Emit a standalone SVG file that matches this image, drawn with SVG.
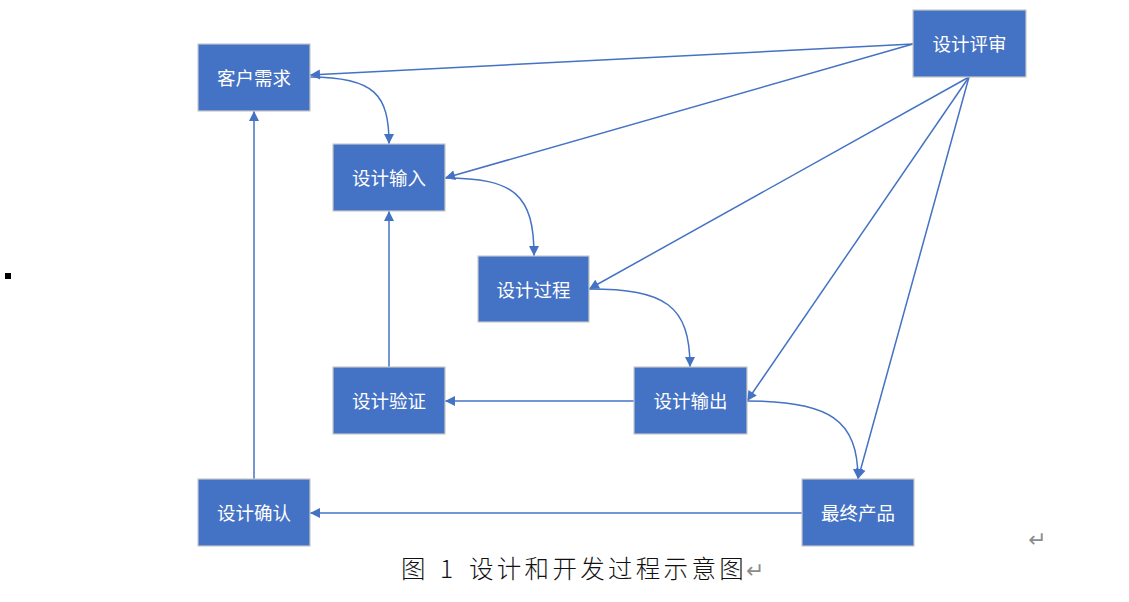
<svg xmlns="http://www.w3.org/2000/svg" width="1129" height="602" viewBox="0 0 1129 602">
<style>
.box{fill:#4472C4;stroke:#C9C9C9;stroke-width:1.2}
.lbl{fill:#FFFFFF;font-family:"Noto Sans CJK SC",sans-serif;font-size:18.5px;text-anchor:middle;dominant-baseline:central}
.c{fill:none;stroke:#4472C4;stroke-width:1.5;marker-end:url(#ah)}
.cap{font-family:"Noto Sans CJK SC",serif;font-size:24.5px;font-weight:300;fill:#111}
.ret{fill:#8C8C8C;font-family:"DejaVu Sans",sans-serif}
</style>
<defs>
<marker id="ah" viewBox="0 0 10 10" refX="10" refY="5" markerWidth="12" markerHeight="10" markerUnits="userSpaceOnUse" orient="auto">
<path d="M0,0 L10,5 L0,10 z" fill="#4472C4"/>
</marker>
</defs>
<rect x="5" y="273" width="6" height="6" fill="#000"/>
<g id="connectors">
<path class="c" d="M310,77 C375,77 389,95 389,144"/>
<path class="c" d="M445,178 C515,178 534,195 534,256"/>
<path class="c" d="M589,289 C665,289 690,305 690,367"/>
<path class="c" d="M747,401 C830,401 858,420 858,479"/>
<path class="c" d="M802,513 L310,513"/>
<path class="c" d="M254,479 L254,111"/>
<path class="c" d="M634,401 L445,401"/>
<path class="c" d="M389,367 L389,211"/>
<path class="c" d="M913,44 L310,75"/>
<path class="c" d="M913,44 L445,178"/>
<path class="c" d="M969,77 L589,289"/>
<path class="c" d="M969,77 L747,401"/>
<path class="c" d="M969,77 L858,479"/>
</g>
<g id="n1"><rect class="box" x="198" y="44" width="112" height="67"/><text class="lbl" x="254" y="77">客户需求</text></g>
<g id="n2"><rect class="box" x="333" y="144" width="112" height="67"/><text class="lbl" x="389" y="177">设计输入</text></g>
<g id="n3"><rect class="box" x="478" y="256" width="111" height="66"/><text class="lbl" x="533.5" y="288.5">设计过程</text></g>
<g id="n4"><rect class="box" x="634" y="367" width="113" height="67"/><text class="lbl" x="690.5" y="400">设计输出</text></g>
<g id="n5"><rect class="box" x="333" y="367" width="112" height="67"/><text class="lbl" x="389" y="400">设计验证</text></g>
<g id="n6"><rect class="box" x="802" y="479" width="112" height="67"/><text class="lbl" x="858" y="512">最终产品</text></g>
<g id="n7"><rect class="box" x="198" y="479" width="112" height="67"/><text class="lbl" x="254" y="512">设计确认</text></g>
<g id="n8"><rect class="box" x="913" y="10" width="113" height="67"/><text class="lbl" x="969.5" y="43">设计评审</text></g>
<text class="cap" x="401" y="578">图<tspan x="440">1</tspan><tspan x="469" letter-spacing="3.3">设计和开发过程示意图</tspan><tspan class="ret" x="746" font-size="22">↵</tspan></text>
<text class="ret" x="1028" y="547" font-size="22">↵</text>
</svg>
